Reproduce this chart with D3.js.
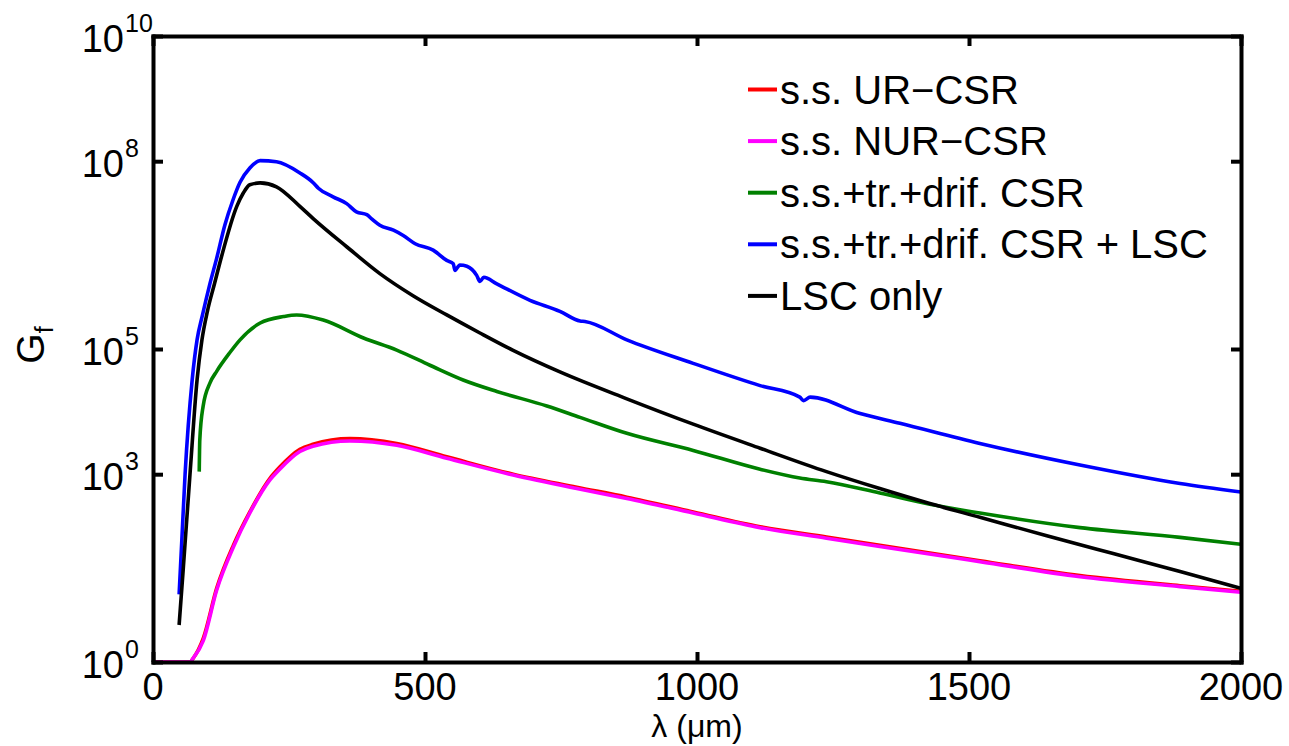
<!DOCTYPE html>
<html>
<head>
<meta charset="utf-8">
<script src="https://cdn.jsdelivr.net/npm/d3@7"></script>
<style>
  body { margin: 0; background: #fff; }
  svg { display: block; }
  text { font-family: "Liberation Sans", Arial, Helvetica, sans-serif; fill: #000; }
</style>
</head>
<body>
<svg id="chart" width="1289" height="746"></svg>
<script>
// ── data (λ in µm, G_f) ──
const lamUR = [0, 68, 74, 92.5, 117, 148, 178, 215, 233, 270, 294, 362, 448, 540, 662, 779, 871, 993, 1116, 1238, 1336, 1520, 1704, 1888, 2000];
const gUR   = [1, 1, 1.15, 2.4, 15, 74, 250, 860, 1300, 2500, 3000, 3700, 3100, 1900, 1000, 620, 430, 250, 145, 99, 73, 41.5, 24, 16.5, 13.5];

const lamNUR = [0, 68, 74, 92.5, 117, 148, 178, 215, 233, 270, 294, 362, 448, 540, 662, 779, 871, 993, 1116, 1238, 1336, 1520, 1704, 1888, 2000];
const gNUR   = [1, 1, 1.15, 2.2, 14, 69, 240, 810, 1200, 2300, 2800, 3400, 2900, 1800, 970, 590, 410, 240, 140, 95, 70, 40, 23, 16, 13];

const lamTot = [85, 86, 92, 105, 117, 141, 160, 197, 240, 264, 313, 387, 448, 509, 570, 632, 724, 785, 871, 993, 1116, 1189, 1238, 1336, 1428, 1520, 1704, 1888, 2000];
const gTot   = [1100, 3500, 12000, 29000, 44000, 87000, 1.4e5, 2.6e5, 3.3e5, 3.5e5, 2.9e5, 1.5e5, 9.6e4, 5.5e4, 3.2e4, 2.1e4, 1.23e4, 8100, 4500, 2400, 1200, 870, 760, 500, 330, 240, 140, 98, 76];

const lamTotLSC = [48, 53, 59, 72, 81, 91, 104, 117, 132, 147, 160, 178, 197, 227, 270, 295, 304, 331, 356, 374, 393, 402, 417, 442, 460, 482, 515, 540, 552, 555, 564, 577, 595, 601, 608, 632, 693, 748, 785, 794, 871, 993, 1116, 1189, 1196, 1208, 1300, 1373, 1520, 1704, 1888, 2000];
const gTotLSC   = [12, 89, 1000, 3.2e4, 1.4e5, 3.5e5, 1.05e6, 2.8e6, 9.5e6, 2.4e7, 4.6e7, 7.8e7, 1.02e8, 9.8e7, 6.5e7, 4.5e7, 3.7e7, 2.7e7, 2.1e7, 1.55e7, 1.4e7, 1.2e7, 9.5e6, 7.9e6, 6.5e6, 4.8e6, 3.8e6, 2.6e6, 2.3e6, 1.8e6, 2.2e6, 2.1e6, 1.5e6, 1.2e6, 1.4e6, 1.1e6, 6.0e5, 4.0e5, 2.8e5, 2.75e5, 1.4e5, 5.9e4, 2.6e4, 1.7e4, 1.5e4, 1.7e4, 9.3e3, 6.5e3, 3.1e3, 1.4e3, 710, 520];

const lamLSC = [48, 55, 68, 81, 90, 100, 113, 126, 154, 166, 178, 197, 227, 270, 295, 356, 417, 478, 540, 601, 662, 748, 871, 993, 1116, 1238, 1336, 1428, 1520, 1643, 1765, 1888, 2000];
const gLSC   = [3.9, 26, 1000, 3.2e4, 1.4e5, 4.0e5, 1.1e6, 3.0e6, 1.9e7, 3.1e7, 4.2e7, 4.5e7, 3.9e7, 1.9e7, 1.2e7, 4.3e6, 1.6e6, 7.1e5, 3.5e5, 1.8e5, 9.5e4, 4.3e4, 1.6e4, 6.3e3, 2.6e3, 1.1e3, 590, 340, 205, 104, 54, 28, 15];

const seriesNames = ['s.s. UR\u2212CSR', 's.s. NUR\u2212CSR', 's.s.+tr.+drif. CSR', 's.s.+tr.+drif. CSR + LSC', 'LSC only'];
const seriesColors = ['#ff0000', '#ff00ff', '#008000', '#0000ff', '#000000'];

const xTicks = [0, 500, 1000, 1500, 2000];
const yTickExps = [0, 3, 5, 8, 10];

// ── layout ──
const plotL = 153, plotR = 1241, plotT = 36, plotB = 662;
const svg = d3.select('#chart');

const x = d3.scaleLinear().domain([0, 2000]).range([plotL, plotR]);
const y = d3.scaleLog().domain([1, 1e10]).range([plotB, plotT]);

const series = [
  { name: seriesNames[0], color: seriesColors[0], lam: lamUR, g: gUR },
  { name: seriesNames[1], color: seriesColors[1], lam: lamNUR, g: gNUR },
  { name: seriesNames[2], color: seriesColors[2], lam: lamTot, g: gTot },
  { name: seriesNames[3], color: seriesColors[3], lam: lamTotLSC, g: gTotLSC },
  { name: seriesNames[4], color: seriesColors[4], lam: lamLSC, g: gLSC }
];

const line = d3.line()
  .x(d => x(d[0]))
  .y(d => y(d[1]))
  .curve(d3.curveMonotoneX);

const plot = svg.append('g');
series.forEach(s => {
  const pts = s.lam.map((l, i) => [l, s.g[i]]);
  plot.append('path')
    .attr('d', line(pts))
    .attr('fill', 'none')
    .attr('stroke', s.color)
    .attr('stroke-width', 3.6)
    .attr('stroke-linejoin', 'round');
});

// ── axes (box with inward ticks) ──
const tickLen = 10;
const axStyle = g => {
  g.selectAll('.domain').attr('stroke', '#000').attr('stroke-width', 4).attr('stroke-linecap', 'square');
  g.selectAll('.tick line').attr('stroke', '#000').attr('stroke-width', 4);
  g.selectAll('.tick text').remove();
};
const yTickVals = yTickExps.map(e => Math.pow(10, e));

svg.append('g').attr('transform', `translate(0,${plotB})`)
  .call(d3.axisBottom(x).tickValues(xTicks).tickSize(-tickLen).tickSizeOuter(0)).call(axStyle);
svg.append('g').attr('transform', `translate(0,${plotT})`)
  .call(d3.axisTop(x).tickValues(xTicks).tickSize(-tickLen).tickSizeOuter(0)).call(axStyle);
svg.append('g').attr('transform', `translate(${plotL},0)`)
  .call(d3.axisLeft(y).tickValues(yTickVals).tickSize(-tickLen).tickSizeOuter(0)).call(axStyle);
svg.append('g').attr('transform', `translate(${plotR},0)`)
  .call(d3.axisRight(y).tickValues(yTickVals).tickSize(-tickLen).tickSizeOuter(0)).call(axStyle);

// x tick labels
svg.append('g').selectAll('text').data(xTicks).join('text')
  .attr('x', d => x(d))
  .attr('y', 700)
  .attr('text-anchor', 'middle')
  .attr('font-size', 38)
  .text(d => d);

// y tick labels: 10 with superscript exponent
const yl = svg.append('g').selectAll('g').data(yTickExps).join('g');
yl.append('text')
  .attr('x', 124)
  .attr('y', d => y(Math.pow(10, d)) + 16)
  .attr('text-anchor', 'end')
  .attr('font-size', 38)
  .text('10');
yl.append('text')
  .attr('x', 125)
  .attr('y', d => y(Math.pow(10, d)) - 4)
  .attr('font-size', 25)
  .text(d => d);

// axis titles
svg.append('text')
  .attr('x', (plotL + plotR) / 2)
  .attr('y', 737)
  .attr('text-anchor', 'middle')
  .attr('font-size', 32)
  .text('\u03bb (\u03bcm)');

const yt = svg.append('text')
  .attr('transform', 'translate(44,345) rotate(-90)')
  .attr('text-anchor', 'middle')
  .attr('font-size', 39);
yt.append('tspan').text('G');
yt.append('tspan').attr('font-size', 25).attr('dy', 9).text('f');

// ── legend ──
const legend = svg.append('g');
const lg = legend.selectAll('g').data(series).join('g')
  .attr('transform', (d, i) => `translate(748,${89.5 + i * 51.6})`);
lg.append('line')
  .attr('x1', 0).attr('x2', 29)
  .attr('stroke', d => d.color)
  .attr('stroke-width', 4);
lg.append('text')
  .attr('x', 32)
  .attr('y', 14)
  .attr('font-size', 40)
  .text(d => d.name);
</script>
</body>
</html>
